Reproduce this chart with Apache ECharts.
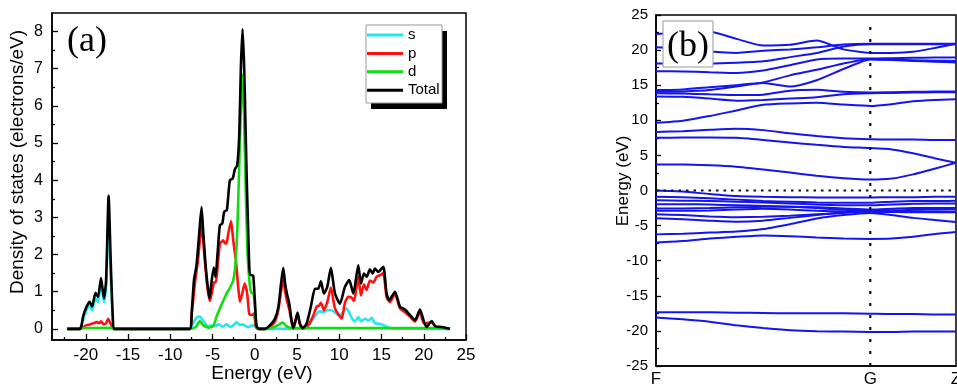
<!DOCTYPE html>
<html><head><meta charset="utf-8">
<script src="https://cdn.jsdelivr.net/npm/echarts@6/dist/echarts.min.js"></script>
<style>html,body{margin:0;padding:0;background:#fff}#c{width:957px;height:385px}</style>
</head><body><div id="c"></div>
<script>
// ---------- DOS panel (a) ----------
const dosXTicks = [-20, -15, -10, -5, 0, 5, 10, 15, 20, 25];
const dosXMinor = [-22.5, -17.5, -12.5, -7.5, -2.5, 2.5, 7.5, 12.5, 17.5, 22.5];
const dosYTicks = [0, 1, 2, 3, 4, 5, 6, 7, 8];
const dosYMinor = [0.5, 1.5, 2.5, 3.5, 4.5, 5.5, 6.5, 7.5];
const dosNames = ['s', 'p', 'd', 'Total'];

const sE = [-22.2,-20.7,-20.4,-19.9,-19.55,-19.25,-18.85,-18.55,-18.2,-17.85,-17.6,-17.3,-17.05,-16.8,-16.6,-7.7,-7.3,-6.9,-6.5,-6.0,-5.5,-4.9,-4.6,-4.3,-3.8,-3.3,-2.95,-2.5,-2.15,-1.8,-1.45,-1.15,-0.77,-0.2,0.2,0.5,5.9,6.2,6.72,7.32,7.71,8.18,8.58,9.09,9.6,10.0,10.47,10.85,11.46,11.86,12.25,12.57,13.04,13.44,13.83,14.22,14.62,15.01,15.41,16.0,23.0];
const sV = [0,0,0.2,0.5,0.62,0.5,0.82,0.72,1.22,0.72,1.1,3.0,1.5,0.2,0,0,0.15,0.3,0.33,0.18,0.07,0.1,0.08,0.12,0.06,0.12,0.05,0.1,0.18,0.1,0.12,0.08,0.05,0.1,0.02,0,0.01,0.05,0.2,0.4,0.47,0.45,0.5,0.5,0.42,0.35,0.45,0.55,0.3,0.2,0.32,0.2,0.27,0.22,0.3,0.15,0.14,0.12,0.08,0.02,0];

const pE = [-22.2,-20.6,-20.3,-19.9,-19.5,-19.1,-18.7,-18.4,-18.2,-17.9,-17.6,-17.35,-17.1,-16.8,-16.6,-7.7,-7.5,-7.1,-6.7,-6.3,-5.9,-5.6,-5.3,-5.05,-4.8,-4.6,-4.35,-4.13,-3.9,-3.74,-3.5,-3.34,-3.14,-2.8,-2.55,-2.24,-1.96,-1.76,-1.48,-1.2,-0.9,-0.66,-0.38,-0.1,0.13,0.4,1.2,1.79,2.4,2.78,3.1,3.37,3.6,3.76,4.1,4.35,4.55,4.8,5.06,5.34,5.74,6.33,6.92,7.32,7.6,7.83,8.18,8.58,9.01,9.49,10.28,10.67,11.07,11.4,11.74,12.25,12.57,12.92,13.24,13.63,14.03,14.42,14.9,15.21,15.6,16.0,16.59,17.18,17.78,18.37,18.96,19.55,20.03,20.94,21.5,22.12,23.1];
const pV = [0,0,0.05,0.1,0.12,0.15,0.18,0.15,0.2,0.12,0.15,0.27,0.15,0.02,0,0,0.3,1.2,1.9,2.78,1.8,1.1,0.75,1.0,1.26,1.25,1.8,2.3,2.35,2.38,2.3,2.3,2.56,2.9,2.38,1.85,1.13,0.73,0.95,1.22,0.95,0.41,0.37,0.41,0.05,0,0,0.05,0.2,0.5,1.0,1.33,1.0,0.8,0.5,0.2,0.01,0.2,0.4,0.12,0.01,0.1,0.35,0.6,0.62,0.7,0.5,0.72,1.11,0.55,0.28,0.7,0.86,0.85,0.75,1.4,0.9,1.2,1.05,1.3,1.25,1.4,1.45,1.5,0.85,0.72,0.95,0.55,0.45,0.33,0.2,0.45,0.15,0.17,0.05,0.03,0];

const dE = [-22.2,-20.6,-20.4,-17.0,-16.7,-7.7,-7.0,-6.5,-6.1,-5.5,-4.9,-4.5,-4.13,-3.74,-3.34,-2.95,-2.55,-2.3,-2.05,-1.85,-1.65,-1.45,-1.25,-1.05,-0.85,-0.6,-0.4,-0.15,0.05,0.2,0.5,1.5,2.3,2.9,3.3,3.7,4.2,6.0,15.0,22.0,23.0];
const dV = [0,0,0.02,0.03,0,0,0.05,0.21,0.1,0.03,0.08,0.35,0.55,0.75,0.95,1.1,1.3,1.7,2.8,4.3,5.9,6.86,5.6,3.5,2.0,1.2,0.97,0.95,0.5,0.05,0,0,0.05,0.12,0.17,0.08,0.03,0.02,0.02,0.02,0];

const tE = [-22.2,-20.7,-20.5,-20.3,-19.9,-19.55,-19.25,-18.85,-18.55,-18.2,-17.85,-17.6,-17.3,-17.05,-16.8,-16.6,-7.7,-7.45,-7.2,-6.9,-6.6,-6.3,-6.1,-5.85,-5.6,-5.35,-5.1,-4.85,-4.65,-4.35,-4.13,-3.85,-3.62,-3.3,-2.95,-2.6,-2.35,-2.08,-1.84,-1.65,-1.45,-1.25,-1.1,-0.97,-0.77,-0.58,-0.4,-0.18,0.0,0.2,0.5,1.2,1.8,2.4,2.8,3.1,3.37,3.6,3.8,4.08,4.35,4.55,4.8,5.06,5.34,5.66,6.13,6.64,7.12,7.51,7.83,8.18,8.58,9.01,9.49,10.08,10.67,11.18,11.66,12.25,12.57,12.92,13.24,13.63,13.95,14.22,14.62,15.21,15.6,15.92,16.59,17.18,17.78,18.37,18.96,19.55,20.03,20.34,20.94,21.33,22.12,23.1];
const tV = [0,0,0.1,0.35,0.6,0.73,0.6,0.97,0.86,1.37,0.82,1.3,3.58,1.8,0.3,0,0,0.5,1.3,1.7,2.5,3.28,2.6,1.8,1.2,0.82,1.3,1.65,1.4,2.2,2.79,2.83,3.15,3.2,4.0,4.05,4.3,4.4,5.2,7.0,8.07,7.0,5.5,4.2,2.56,1.45,1.45,1.42,0.8,0.08,0,0,0.1,0.28,0.6,1.2,1.64,1.2,0.95,0.68,0.23,0.02,0.2,0.44,0.14,0.02,0.14,0.6,1.08,1.08,1.28,0.95,1.13,1.64,0.95,0.68,1.13,1.31,0.95,1.71,1.22,1.49,1.4,1.6,1.49,1.62,1.53,1.67,0.95,0.77,1.0,0.6,0.52,0.37,0.23,0.52,0.19,0.05,0.21,0.07,0.05,0];

// ---------- Band panel (b) ----------
const kPoints = [0, 0.125, 0.25, 0.375, 0.5, 0.625, 0.75, 0.875, 1.0, 1.1, 1.2, 1.3, 1.4];
const kTickPos = [0, 1, 1.4];
const kTickNames = ['F', 'G', 'Z'];
const bands = [
  [-18.1,-18.35,-18.7,-19.2,-19.6,-19.9,-20.05,-20.1,-20.15,-20.15,-20.1,-20.1,-20.1],
  [-17.35,-17.35,-17.35,-17.4,-17.45,-17.5,-17.5,-17.5,-17.55,-17.6,-17.6,-17.65,-17.65],
  [-7.4,-7.2,-6.85,-6.6,-6.4,-6.5,-6.7,-6.85,-6.9,-6.85,-6.6,-6.2,-5.9],
  [-6.25,-6.15,-6.0,-5.85,-5.5,-4.8,-4.0,-3.5,-3.2,-3.5,-3.9,-4.2,-4.5],
  [-3.95,-4.1,-4.3,-4.45,-4.3,-3.9,-3.5,-3.1,-2.9,-2.9,-2.95,-3.0,-3.0],
  [-3.4,-3.5,-3.7,-3.8,-3.75,-3.6,-3.4,-3.2,-3.0,-3.05,-3.1,-3.1,-3.1],
  [-2.9,-2.9,-2.85,-2.7,-2.6,-2.7,-2.9,-3.0,-3.05,-3.05,-3.05,-3.05,-3.05],
  [-2.55,-2.55,-2.5,-2.4,-2.3,-2.3,-2.5,-2.75,-2.9,-2.85,-2.75,-2.7,-2.65],
  [-1.95,-1.95,-2.0,-2.1,-2.2,-2.3,-2.4,-2.55,-2.7,-2.6,-2.5,-2.5,-2.5],
  [-1.4,-1.45,-1.5,-1.6,-1.7,-1.85,-2.0,-2.1,-2.1,-2.0,-1.9,-1.85,-1.85],
  [-0.9,-0.95,-1.1,-1.3,-1.5,-1.6,-1.7,-1.75,-1.75,-1.6,-1.5,-1.5,-1.45],
  [0,-0.15,-0.5,-0.8,-0.9,-0.95,-1.0,-1.0,-1.0,-0.95,-0.95,-0.9,-0.9],
  [3.7,3.7,3.6,3.4,3.0,2.55,2.1,1.75,1.55,1.7,2.3,3.1,3.95],
  [7.5,7.55,7.55,7.5,7.2,6.85,6.5,6.2,6.05,5.85,5.3,4.6,3.95],
  [8.35,8.45,8.65,8.8,8.6,8.15,7.75,7.45,7.3,7.25,7.25,7.2,7.2],
  [9.65,9.95,10.6,11.4,12.2,12.4,12.5,12.25,12.05,12.3,12.7,12.9,13.0],
  [13.4,13.35,13.1,12.8,12.9,13.1,13.3,13.7,13.85,13.9,13.95,14.0,14.0],
  [13.85,13.8,13.7,13.6,13.65,14.2,14.35,14.05,13.95,14.0,14.05,14.1,14.1],
  [14.05,14.1,14.3,14.8,15.4,16.4,17.2,18.1,18.75,18.6,18.45,18.35,18.25],
  [14.3,14.4,14.7,15.0,15.3,14.8,15.7,17.3,18.65,18.6,18.55,18.5,18.45],
  [17.0,16.95,16.85,16.75,17.1,17.85,18.65,18.8,18.8,18.85,18.9,18.95,18.95],
  [18.1,18.1,18.1,18.2,18.4,19.0,19.6,20.5,20.85,20.85,20.85,20.85,20.85],
  [20.4,20.2,19.8,19.6,19.9,20.1,20.4,20.8,20.9,20.9,20.9,20.9,20.9],
  [22.3,22.5,22.6,21.6,20.65,20.75,21.35,20.1,19.6,19.6,19.75,20.3,20.9]
];
const fermiLevel = 0;

// ---------- build ----------
const FONT = '"Liberation Sans", Arial, sans-serif';
const SERIF = '"Liberation Serif", "Times New Roman", serif';
function pairs(xs, ys) { return xs.map((x, i) => [x, ys[i]]); }
const dosColors = ['#22e8ee', '#ff1010', '#10dd10', '#000000'];
const dosData = [pairs(sE, sV), pairs(pE, pV), pairs(dE, dV), pairs(tE, tV)];

const series = [];
dosNames.forEach((n, i) => {
  series.push({
    name: n, type: 'line', xAxisIndex: 0, yAxisIndex: 0,
    data: dosData[i], showSymbol: false, symbol: 'none', smooth: 0.2,
    color: dosColors[i],
    lineStyle: { color: dosColors[i], width: 2.6 }, z: 2 + i
  });
});
bands.forEach((b, i) => {
  series.push({
    type: 'line', xAxisIndex: 2, yAxisIndex: 2,
    data: pairs(kPoints, b), showSymbol: false, symbol: 'none', smooth: 0.2,
    lineStyle: { color: '#1414ee', width: 2 }, silent: true, z: 2
  });
});
series.push({
  type: 'line', xAxisIndex: 2, yAxisIndex: 2, symbol: 'none', silent: true,
  data: [[kTickPos[0], fermiLevel], [kTickPos[2], fermiLevel]],
  lineStyle: { color: '#111', width: 2.2, type: [2.5, 5] }, z: 3
});
series.push({
  type: 'line', xAxisIndex: 2, yAxisIndex: 2, symbol: 'none', silent: true,
  data: [[kTickPos[1], -25], [kTickPos[1], 24.2]],
  lineStyle: { color: '#111', width: 2.2, type: [3, 9] }, z: 3
});

const tickStyle = { color: '#000', width: 1.3 };
const axisLineStyle = { show: true, onZero: false, lineStyle: { color: '#000', width: 1.5 } };
const option = {
  animation: false,
  backgroundColor: '#fff',
  grid: [
    { left: 52, top: 13, width: 414, height: 327, show: true, borderColor: '#000', borderWidth: 1.5, backgroundColor: 'transparent', containLabel: false, outerBoundsMode: 'none' },
    { left: 656, top: 15, width: 300, height: 351, show: true, borderColor: '#000', borderWidth: 1.5, backgroundColor: 'transparent', containLabel: false, outerBoundsMode: 'none' }
  ],
  xAxis: [
    { type: 'value', gridIndex: 0, min: -24, max: 25, splitLine: { show: false },
      axisLine: axisLineStyle,
      axisTick: { show: true, inside: true, length: 6, customValues: dosXTicks, lineStyle: tickStyle },
      axisLabel: { customValues: dosXTicks, color: '#000', fontSize: 17, fontFamily: FONT, margin: 7 } },
    { type: 'value', gridIndex: 0, min: -24, max: 25, position: 'bottom', offset: 0, splitLine: { show: false },
      axisLine: { show: false, onZero: false },
      axisTick: { show: true, inside: true, length: 3, customValues: dosXMinor, lineStyle: tickStyle },
      axisLabel: { show: false } },
    { type: 'value', gridIndex: 1, min: 0, max: 1.4, splitLine: { show: false },
      axisLine: axisLineStyle,
      axisTick: { show: false },
      axisLabel: { customValues: kTickPos, color: '#000', fontSize: 17, fontFamily: FONT, margin: 5,
        formatter: v => { const i = kTickPos.indexOf(v); return i >= 0 ? kTickNames[i] : ''; } } }
  ],
  yAxis: [
    { type: 'value', gridIndex: 0, min: -0.3, max: 8.5, splitLine: { show: false },
      axisLine: axisLineStyle,
      axisTick: { show: true, inside: true, length: 6, customValues: dosYTicks, lineStyle: tickStyle },
      axisLabel: { customValues: dosYTicks, color: '#000', fontSize: 16, fontFamily: FONT, margin: 9 } },
    { type: 'value', gridIndex: 0, min: -0.3, max: 8.5, position: 'left', offset: 0, splitLine: { show: false },
      axisLine: { show: false, onZero: false },
      axisTick: { show: true, inside: true, length: 3, customValues: dosYMinor, lineStyle: tickStyle },
      axisLabel: { show: false } },
    { type: 'value', gridIndex: 1, min: -25, max: 25, interval: 5, splitLine: { show: false },
      axisLine: axisLineStyle,
      axisTick: { show: true, inside: true, length: 5, lineStyle: tickStyle },
      minorTick: { show: true, splitNumber: 2, length: 3, lineStyle: tickStyle },
      minorSplitLine: { show: false },
      axisLabel: { color: '#000', fontSize: 15, fontFamily: FONT, margin: 8 } }
  ],
  legend: {
    data: dosNames, orient: 'vertical', left: 367, top: 27, padding: 0,
    itemWidth: 36, itemHeight: 3, itemGap: 2.4, icon: 'rect', z: 60,
    textStyle: { color: '#000', fontSize: 15, fontFamily: FONT, lineHeight: 16 }
  },
  graphic: [
    { type: 'rect', z: 50, shape: { x: 371, y: 31, width: 76, height: 78 }, style: { fill: '#000' } },
    { type: 'rect', z: 51, shape: { x: 366, y: 25, width: 76, height: 78 }, style: { fill: '#fff', stroke: '#999', lineWidth: 1 } },
    { type: 'text', z: 60, x: 87, y: 42, style: { text: '(a)', font: '36px ' + SERIF, fill: '#000', textAlign: 'center', textVerticalAlign: 'middle' } },
    { type: 'rect', z: 60, shape: { x: 663, y: 21, width: 50, height: 46 }, style: { fill: '#fff', stroke: '#999', lineWidth: 1 } },
    { type: 'text', z: 61, x: 688, y: 47, style: { text: '(b)', font: '36px ' + SERIF, fill: '#000', textAlign: 'center', textVerticalAlign: 'middle' } },
    { type: 'text', z: 60, x: 262, y: 374, style: { text: 'Energy (eV)', font: '19px ' + FONT, fill: '#000', textAlign: 'center', textVerticalAlign: 'middle' } },
    { type: 'text', z: 60, x: 18, y: 162, rotation: Math.PI / 2, style: { text: 'Density of states (electrons/eV)', font: '19px ' + FONT, fill: '#000', textAlign: 'center', textVerticalAlign: 'middle' } },
    { type: 'text', z: 60, x: 623, y: 181, rotation: Math.PI / 2, style: { text: 'Energy (eV)', font: '17px ' + FONT, fill: '#000', textAlign: 'center', textVerticalAlign: 'middle' } }
  ],
  series: series
};
const chart = echarts.init(document.getElementById('c'), null, { renderer: 'canvas' });
chart.setOption(option);
</script></body></html>
